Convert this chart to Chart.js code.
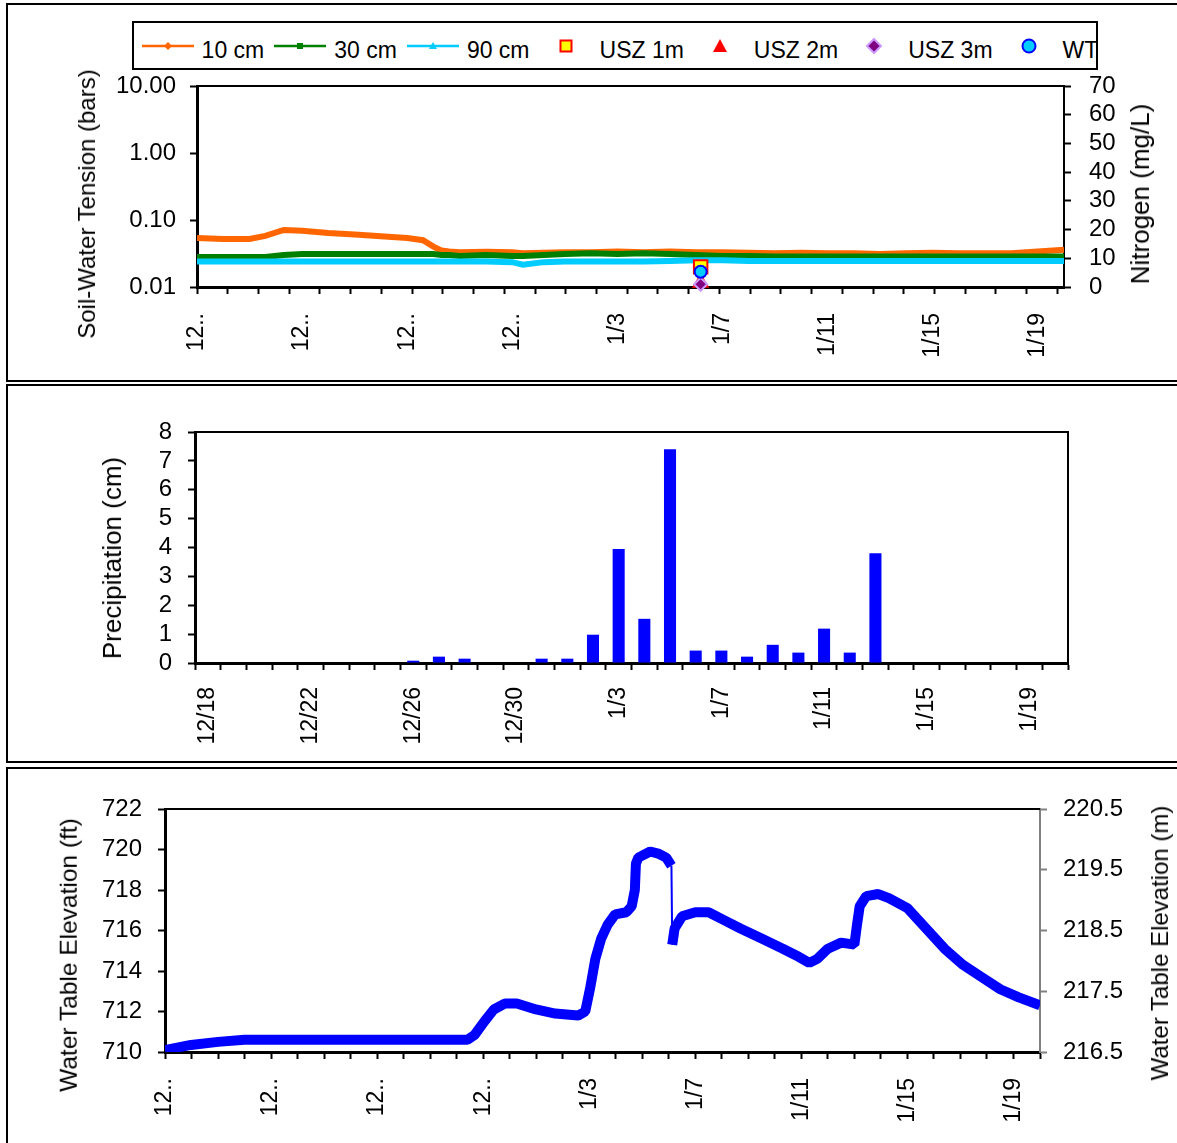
<!DOCTYPE html>
<html lang="en">
<head>
  <meta charset="UTF-8" />
  <title>Soil-water tension, precipitation and water table</title>
  <script src="https://cdn.jsdelivr.net/npm/chart.js@4.4.1/dist/chart.umd.min.js"></script>
  <style>
    html, body { margin: 0; padding: 0; background: #fff; }
    body {
      width: 1177px; height: 1143px; position: relative; overflow: hidden;
      font-family: "Liberation Sans", Arial, sans-serif; color: #000;
    }
    .panel { position: absolute; left: 6px; width: 1180px; border: 2px solid #000; box-sizing: border-box; }
    canvas { position: absolute; left: 0; }
    .axis-title {
      position: absolute; white-space: nowrap; line-height: 1;
      transform: translate(-50%, -50%) rotate(-90deg);
    }
    .legend {
      position: absolute; left: 132px; top: 21px; width: 966px; height: 49px;
      border: 2px solid #000; box-sizing: border-box; overflow: hidden; background: #fff;
    }
    .legend-row { position: absolute; left: 7.6px; top: 14.3px; display: flex; align-items: center; white-space: nowrap; }
    .legend-row svg { position: relative; top: -4px; flex: none; }
    .legend-row span { font-size: 23px; line-height: 26px; margin-left: 8px; margin-right: 10px; }
  </style>
</head>
<body>
  <div class="panel" style="top:3px;height:379px"></div>
  <div class="panel" style="top:384px;height:379px"></div>
  <div class="panel" style="top:767px;height:400px"></div>

  <canvas id="tensionChart" width="1177" height="381" style="top:0"></canvas>
  <canvas id="precipChart" width="1177" height="379" style="top:384px"></canvas>
  <canvas id="wtChart" width="1177" height="376" style="top:767px"></canvas>

  <!-- legend of the top panel -->
  <div class="legend">
    <div class="legend-row">
      <svg width="52" height="26"><line x1="0" y1="13" x2="52" y2="13" stroke="#FF6600" stroke-width="2.5"/><path d="M26 9 L30 13 L26 17 L22 13 Z" fill="#FF6600"/></svg><span>10 cm</span>
      <svg width="52" height="26"><line x1="0" y1="13" x2="52" y2="13" stroke="#008000" stroke-width="2.5"/><rect x="23" y="10" width="6" height="6" fill="#008000"/></svg><span>30 cm</span>
      <svg width="52" height="26"><line x1="0" y1="13" x2="52" y2="13" stroke="#00CCFF" stroke-width="2.5"/><path d="M26 9 L30 16 L22 16 Z" fill="#00CCFF"/></svg><span>90 cm</span>
      <svg width="52" height="26"><rect x="20.5" y="7.5" width="11" height="11" fill="#FFFF00" stroke="#FF0000" stroke-width="2"/></svg><span>USZ 1m</span>
      <svg width="52" height="26"><path d="M26 6 L33 19 L19 19 Z" fill="#FF0000"/></svg><span>USZ 2m</span>
      <svg width="52" height="26"><path d="M26 6 L33 13 L26 20 L19 13 Z" fill="#800080" stroke="#CC99FF" stroke-width="2"/></svg><span>USZ 3m</span>
      <svg width="52" height="26"><circle cx="26" cy="13" r="6.5" fill="#00CCFF" stroke="#0000FF" stroke-width="2"/></svg><span>WT</span>
    </div>
  </div>

  <div class="axis-title" style="left:87px;top:204px;font-size:24px">Soil-Water Tension (bars)</div>
  <div class="axis-title" style="left:1140px;top:194px;font-size:26px">Nitrogen (mg/L)</div>
  <div class="axis-title" style="left:112px;top:558px;font-size:26px">Precipitation (cm)</div>
  <div class="axis-title" style="left:69px;top:955px;font-size:24.5px">Water Table Elevation (ft)</div>
  <div class="axis-title" style="left:1160px;top:943px;font-size:24px">Water Table Elevation (m)</div>

  <script>
    // ---- data (days counted from 12/18) ----
    const tensionDays = [0, 1, 2, 2.6, 3.3, 4, 5, 6, 7, 8, 8.6, 9, 9.3, 9.6, 10, 11, 12, 12.4, 13.2,
      14, 15, 16, 17, 18, 19, 20, 21, 22, 23, 24, 25, 26, 27, 28, 29, 30, 31, 32, 33];
    const tension10cm = [0.054, 0.052, 0.052, 0.058, 0.071, 0.069, 0.064, 0.061, 0.057, 0.054, 0.050, 0.040, 0.035, 0.034,
      0.033, 0.0335, 0.033, 0.032, 0.0325, 0.033, 0.033, 0.034, 0.033, 0.034, 0.033, 0.033, 0.0325, 0.032,
      0.0325, 0.032, 0.032, 0.031, 0.032, 0.0325, 0.032, 0.032, 0.032, 0.034, 0.036];
    const tension30cm = [0.028, 0.028, 0.028, 0.028, 0.030, 0.031, 0.031, 0.031, 0.031, 0.031, 0.031, 0.031, 0.030, 0.030,
      0.029, 0.030, 0.029, 0.029, 0.030, 0.031, 0.032, 0.031, 0.032, 0.031, 0.030, 0.029, 0.029, 0.0285,
      0.0285, 0.0285, 0.0285, 0.0285, 0.0285, 0.0285, 0.0285, 0.0285, 0.0285, 0.0285, 0.0285];
    const tension90cm = [0.024, 0.024, 0.024, 0.024, 0.024, 0.024, 0.024, 0.024, 0.024, 0.024, 0.024, 0.024, 0.024, 0.024,
      0.024, 0.024, 0.0235, 0.0215, 0.0235, 0.024, 0.024, 0.024, 0.024, 0.0245, 0.025, 0.025, 0.0245, 0.0245,
      0.0245, 0.0245, 0.0245, 0.0245, 0.0245, 0.0245, 0.0245, 0.0245, 0.0245, 0.0245, 0.0245];
    const tensionTicks = [0.01, 0.1, 1, 10];
    const dateTickLabels = ['12..', '12..', '12..', '12..', '1/3', '1/7', '1/11', '1/15', '1/19'];

    // nitrogen samples (mg/L)
    const nitrogenDays = [19.17];
    const usz1m = [7.0];
    const usz2m = [1.5];
    const usz3m = [0.95];
    const wtNitrogen = [5.3];

    const precipDates = ['12/18', '12/19', '12/20', '12/21', '12/22', '12/23', '12/24', '12/25', '12/26', '12/27',
      '12/28', '12/29', '12/30', '12/31', '1/1', '1/2', '1/3', '1/4', '1/5', '1/6', '1/7', '1/8', '1/9', '1/10',
      '1/11', '1/12', '1/13', '1/14', '1/15', '1/16', '1/17', '1/18', '1/19', '1/20'];
    const precipCm = [0, 0, 0, 0, 0, 0, 0, 0, 0.08, 0.22, 0.15, 0, 0, 0.15, 0.15, 0.98, 3.95, 1.53, 7.40, 0.43,
      0.43, 0.22, 0.63, 0.36, 1.19, 0.36, 3.80, 0, 0, 0, 0, 0, 0, 0];

    const wtDays = [0, 0.98, 2.0, 3.0, 5.1, 8.9, 11.4, 11.68, 12.04, 12.4, 12.83, 13.27, 13.99, 14.72, 15.58,
      15.85, 16.04, 16.23, 16.45, 16.7, 16.98, 17.4, 17.6, 17.72, 17.76, 17.85, 18.3, 18.6, 18.9, 19.1, 19.13,
      19.22, 19.5, 20.0, 20.5, 21.1, 21.7, 22.5, 23.3, 23.9, 24.3, 24.6, 25.0, 25.5, 26.0, 26.1, 26.2, 26.45,
      26.9, 27.3, 28.0, 28.7, 29.4, 30.1, 30.8, 31.5, 32.2, 33.0];
    const wtFeet = [710.1, 710.35, 710.5, 710.6, 710.6, 710.6, 710.6, 710.85, 711.5, 712.1, 712.4, 712.4, 712.1,
      711.9, 711.8, 712.0, 713.2, 714.6, 715.6, 716.3, 716.8, 716.9, 717.2, 718.0, 719.3, 719.6, 719.9, 719.8,
      719.6, 719.2, 715.3, 716.1, 716.7, 716.9, 716.9, 716.5, 716.1, 715.6, 715.1, 714.7, 714.4, 714.6, 715.1,
      715.4, 715.3, 716.3, 717.2, 717.7, 717.8, 717.6, 717.1, 716.1, 715.1, 714.3, 713.7, 713.1, 712.7, 712.3];
    const meterTicks = [216.5, 217.5, 218.5, 219.5, 220.5];

    // ---- shared settings ----
    Chart.defaults.font.family = "'Liberation Sans', Arial, sans-serif";
    Chart.defaults.color = '#000';
    Chart.defaults.animation = false;

    const BLACK = '#000';
    const MINOR_STEP = 32.75 / 28; // tick spacing on the top panel's date axis

    // top and (optionally) right edges of the plot area
    const plotFrame = {
      id: 'plotFrame',
      beforeDatasetsDraw(chart, args, opts) {
        const { ctx, chartArea: a } = chart;
        ctx.save();
        ctx.strokeStyle = BLACK;
        ctx.lineWidth = 2;
        ctx.beginPath();
        ctx.moveTo(a.left, a.top);
        ctx.lineTo(a.right, a.top);
        if (opts.right) ctx.lineTo(a.right, a.bottom);
        ctx.stroke();
        ctx.restore();
      }
    };

    function tickGrid(color) {
      return { drawOnChartArea: false, drawTicks: true, tickLength: 7, tickWidth: 2, tickColor: color || BLACK };
    }
    const xy = (xs, ys) => xs.map((x, i) => ({ x: x, y: ys[i] }));

    function lineSet(label, values, color, order) {
      return {
        label, data: xy(tensionDays, values), yAxisID: 'y',
        borderColor: color, backgroundColor: color, borderWidth: 6,
        pointRadius: 0, tension: 0, order
      };
    }
    function markerSet(label, values, style, radius, fill, stroke, order) {
      return {
        label, data: xy(nitrogenDays, values), yAxisID: 'y2', showLine: false, clip: false,
        pointStyle: style, pointRadius: radius, pointBorderWidth: 2,
        pointBackgroundColor: fill, pointBorderColor: stroke,
        backgroundColor: fill, borderColor: stroke, order
      };
    }

    const rotatedTicks = (pad) => ({ autoSkip: false, minRotation: 90, maxRotation: 90, padding: pad, font: { size: 23 } });
    const valueTicks = (pad, extra) => Object.assign({ autoSkip: false, padding: pad, font: { size: 24 } }, extra);

    // ---- top panel: soil-water tension + nitrogen ----
    new Chart(document.getElementById('tensionChart'), {
      type: 'line',
      data: {
        datasets: [
          lineSet('10 cm', tension10cm, '#FF6600', 6),
          lineSet('30 cm', tension30cm, '#008000', 5),
          lineSet('90 cm', tension90cm, '#00CCFF', 4),
          markerSet('USZ 1m', usz1m, 'rect', 9.5, '#FFFF00', '#FF0000', 3),
          markerSet('USZ 2m', usz2m, 'triangle', 8, '#FF0000', '#FF0000', 2),
          markerSet('USZ 3m', usz3m, 'rectRot', 6.5, '#800080', '#CC99FF', 1),
          markerSet('WT', wtNitrogen, 'circle', 6, '#00CCFF', '#0000FF', 0)
        ]
      },
      options: {
        responsive: false,
        layout: { padding: { top: 86, left: 0, right: 0, bottom: 0 } },
        plugins: { legend: { display: false }, tooltip: { enabled: false }, plotFrame: { right: false } },
        scales: {
          x: {
            type: 'linear', min: 0, max: 33,
            afterBuildTicks: s => {
              const t = [];
              for (let k = 0; k * MINOR_STEP < 32.9; k++) t.push({ value: k * MINOR_STEP, minor: true });
              dateTickLabels.forEach((lab, i) => t.push({ value: i * 4, lab }));
              s.ticks = t.sort((a, b) => a.value - b.value);
            },
            afterFit: s => { s.height = 94; },
            ticks: Object.assign(rotatedTicks(19), { callback: (v, i, t) => t[i].lab || '' }),
            grid: Object.assign(tickGrid(), { tickColor: c => (c.tick && c.tick.minor) ? BLACK : 'rgba(0,0,0,0)' }),
            border: { color: BLACK, width: 3 }
          },
          y: {
            type: 'logarithmic', position: 'left', min: 0.01, max: 10,
            afterBuildTicks: s => { s.ticks = tensionTicks.map(v => ({ value: v })); },
            afterFit: s => { s.width = 197; },
            ticks: valueTicks(14, { callback: v => Number(v).toFixed(2) }),
            grid: tickGrid(),
            border: { color: BLACK, width: 3 }
          },
          y2: {
            type: 'linear', position: 'right', min: 0, max: 70,
            afterFit: s => { s.width = 113; },
            ticks: valueTicks(18, { stepSize: 10 }),
            grid: tickGrid(),
            border: { color: BLACK, width: 2 }
          }
        }
      },
      plugins: [plotFrame]
    });

    // ---- middle panel: daily precipitation ----
    new Chart(document.getElementById('precipChart'), {
      type: 'bar',
      data: {
        labels: precipDates,
        datasets: [{ label: 'Precipitation', data: precipCm, backgroundColor: '#0000FF', barPercentage: 0.47, categoryPercentage: 1 }]
      },
      options: {
        responsive: false,
        layout: { padding: { top: 48, left: 0, right: 109, bottom: 0 } },
        plugins: { legend: { display: false }, tooltip: { enabled: false }, plotFrame: { right: true } },
        scales: {
          x: {
            afterFit: s => { s.height = 100; },
            ticks: Object.assign(rotatedTicks(17), { callback: (v, i) => i % 4 === 0 ? precipDates[i] : '' }),
            grid: Object.assign(tickGrid(), { offset: true }),
            border: { color: BLACK, width: 3 }
          },
          y: {
            min: 0, max: 8,
            afterFit: s => { s.width = 195; },
            ticks: valueTicks(16, { stepSize: 1 }),
            grid: tickGrid(),
            border: { color: BLACK, width: 3 }
          }
        }
      },
      plugins: [plotFrame]
    });

    // ---- bottom panel: water table elevation ----
    new Chart(document.getElementById('wtChart'), {
      type: 'line',
      data: {
        datasets: [{
          label: 'Water table', data: xy(wtDays, wtFeet), yAxisID: 'y',
          borderColor: '#0000FF', backgroundColor: '#0000FF', borderWidth: 10,
          borderJoinStyle: 'bevel', pointRadius: 0, tension: 0,
          segment: {
            // the sudden drop shows as a thin connector, like the original
            borderWidth: c => (Math.abs(c.p1.parsed.y - c.p0.parsed.y) > 3 && c.p1.parsed.x - c.p0.parsed.x < 0.1) ? 2 : 10
          }
        }]
      },
      options: {
        responsive: false,
        layout: { padding: { top: 42, left: 0, right: 0, bottom: 0 } },
        plugins: { legend: { display: false }, tooltip: { enabled: false }, plotFrame: { right: false } },
        scales: {
          x: {
            type: 'linear', min: 0, max: 33,
            afterBuildTicks: s => {
              const t = [];
              for (let d = 0; d <= 33; d++) t.push({ value: d });
              s.ticks = t;
            },
            afterFit: s => { s.height = 91; },
            ticks: Object.assign(rotatedTicks(19), { callback: v => v % 4 === 0 ? dateTickLabels[v / 4] : '' }),
            grid: tickGrid(),
            border: { color: BLACK, width: 3 }
          },
          y: {
            min: 710, max: 722,
            afterFit: s => { s.width = 165; },
            ticks: valueTicks(16, { stepSize: 2 }),
            grid: tickGrid(),
            border: { color: BLACK, width: 3 }
          },
          y2: {
            type: 'linear', position: 'right', min: 216.5, max: 220.5,
            afterBuildTicks: s => { s.ticks = meterTicks.map(v => ({ value: v })); },
            afterFit: s => { s.width = 137; },
            ticks: valueTicks(16, { callback: v => Number(v).toFixed(1) }),
            grid: tickGrid('#808080'),
            border: { color: '#808080', width: 2 }
          }
        }
      },
      plugins: [plotFrame]
    });
  </script>
</body>
</html>
